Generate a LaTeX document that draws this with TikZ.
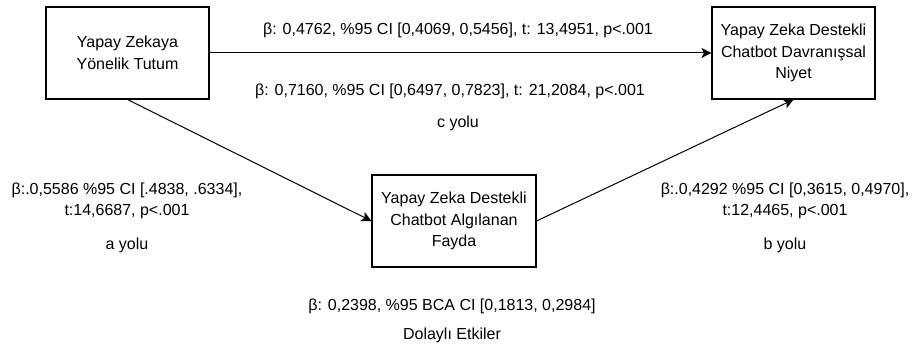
\documentclass[tikz,border=0pt]{standalone}
\usepackage{fontspec}
\setmainfont{Liberation Sans}
\usetikzlibrary{arrows.meta}
\begin{document}
\begin{tikzpicture}[x=1pt,y=-1pt,
  box/.style={draw, line width=1.1pt, inner sep=0pt, align=center,
    font=\fontsize{16}{21.7}\selectfont},
  lbl/.style={anchor=base, inner sep=0pt, font=\fontsize{16}{22}\selectfont, align=center},
  conn/.style={line width=1pt, -{Stealth[length=10pt,width=10pt,inset=2.5pt]}}]
\useasboundingbox (0,0) rectangle (914,347);
\node[box, minimum width=163pt, minimum height=92pt] (A) at (127.5,53) {Yapay Zekaya\\Yönelik Tutum};
\node[box, minimum width=163pt, minimum height=92pt] (C) at (793.5,53) {Yapay Zeka Destekli\\Chatbot Davranışsal\\Niyet};
\node[box, minimum width=164pt, minimum height=92pt] (B) at (454,221) {Yapay Zeka Destekli\\Chatbot Algılanan\\Fayda};
\draw[conn] (A.east) -- (C.west);
\draw[conn] (A.south) -- (B.west);
\draw[conn] (B.east) -- (C.south);
\node[lbl] (l1) at (458,34.5) {β: 0,4762, \%95 CI [0,4069, 0,5456], t: 13,4951, p<.001};
\node[lbl] (l2) at (450,96) {β: 0,7160, \%95 CI [0,6497, 0,7823], t: 21,2084, p<.001};
\node[lbl] (l3) at (458,128) {c yolu};
\node[lbl] (a1) at (127,195) {β:.0,5586 \%95 CI [.4838, .6334],};
\node[lbl] (a2) at (127,216) {t:14,6687, p<.001};
\node[lbl] (a3) at (127,250) {a yolu};
\node[lbl] (b1) at (785,195) {β:.0,4292 \%95 CI [0,3615, 0,4970],};
\node[lbl] (b2) at (785,216) {t:12,4465, p<.001};
\node[lbl] (b3) at (785,250) {b yolu};
\node[lbl] (d1) at (452,311) {β: 0,2398, \%95 BCA CI [0,1813, 0,2984]};
\node[lbl] (d2) at (452,340) {Dolaylı Etkiler};
\end{tikzpicture}
\end{document}
